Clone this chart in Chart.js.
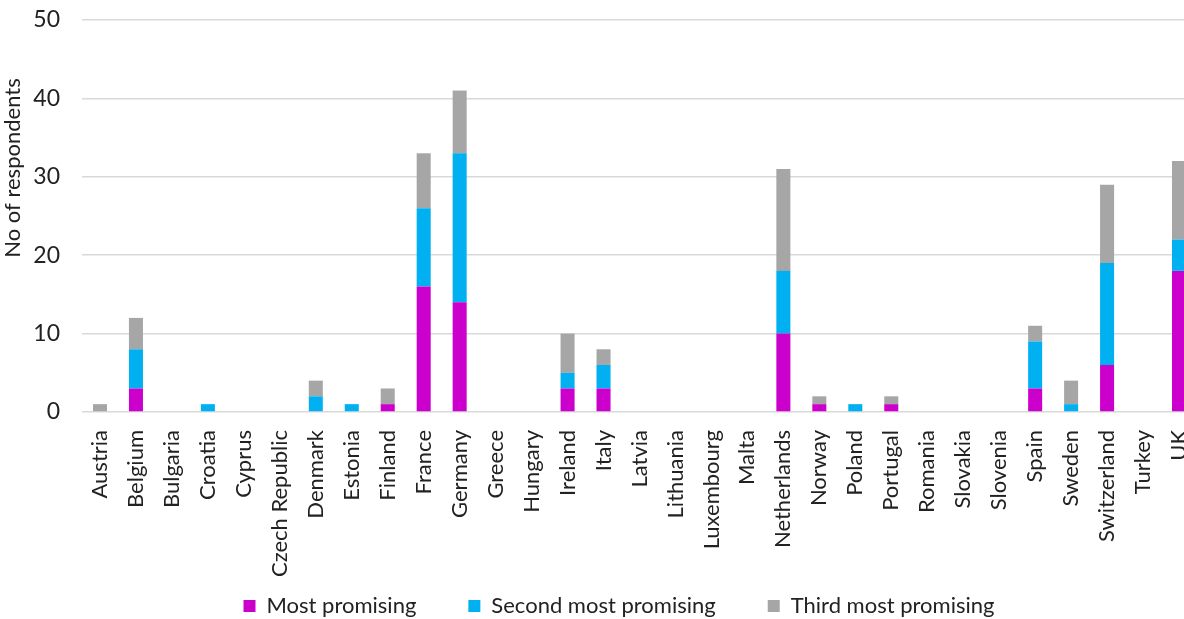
<!DOCTYPE html>
<html>
<head>
<meta charset="utf-8">
<script src="https://cdn.jsdelivr.net/npm/chart.js@4"></script>
<style>
  html, body { margin: 0; padding: 0; overflow: hidden; background: #fff; }
  #wrap { position: absolute; left: 0; top: 0; width: 1234px; height: 619px; }
</style>
</head>
<body>
<div id="wrap"><canvas id="grafic" width="1234" height="619"></canvas></div>
<script>
// dades
const paisos = ["Austria","Belgium","Bulgaria","Croatia","Cyprus","Czech Republic","Denmark","Estonia","Finland","France",
  "Germany","Greece","Hungary","Ireland","Italy","Latvia","Lithuania","Luxembourg","Malta","Netherlands",
  "Norway","Poland","Portugal","Romania","Slovakia","Slovenia","Spain","Sweden","Switzerland","Turkey","UK"];
const mesPrometedor =    [0,3,0,0,0,0,0,0,1,16, 14,0,0,3,3,0,0,0,0,10, 1,0,1,0,0,0,3,0,6,0,18];
const segonPrometedor =  [0,5,0,1,0,0,2,1,0,10, 19,0,0,2,3,0,0,0,0,8,  0,1,0,0,0,0,6,1,13,0,4];
const tercerPrometedor = [1,4,0,0,0,0,2,0,2,7,  8,0,0,5,2,0,0,0,0,13, 1,0,1,0,0,0,2,3,10,0,10];
const ticksY = [0,10,20,30,40,50];

const font = "Lato, 'DejaVu Sans', sans-serif";
const textColor = "#222222";

// titol de l'eix Y dibuixat a ma
const titolY = {
  id: "titolY",
  afterDraw(chart) {
    const ctx = chart.ctx;
    ctx.save();
    ctx.translate(13, 168);
    ctx.rotate(-Math.PI / 2);
    ctx.font = "22px " + font;
    ctx.fillStyle = textColor;
    ctx.textAlign = "center";
    ctx.textBaseline = "middle";
    ctx.fillText("No of respondents", 0, 0);
    ctx.restore();
  }
};

// les etiquetes no es retallen a la caixa de l'eix
function senseRetall(scale) {
  scale._computeLabelArea = () => undefined;
}

let node = document.querySelector("#grafic");
let grafic = new Chart(node, {
  type: "bar",
  data: {
    labels: paisos,
    datasets: [
      { label: "Most promising", data: mesPrometedor, backgroundColor: "#CC00CC" },
      { label: "Second most promising", data: segonPrometedor, backgroundColor: "#00B0F0" },
      { label: "Third most promising", data: tercerPrometedor, backgroundColor: "#A6A6A6" }
    ]
  },
  options: {
    responsive: false,
    animation: false,
    layout: { padding: { top: 20, right: 37, left: 41, bottom: -8 } },
    datasets: { bar: { barPercentage: 0.39, categoryPercentage: 1 } },
    scales: {
      x: {
        stacked: true,
        grid: { display: false },
        border: { display: false },
        afterFit(scale) {
          scale.height = 131;
          senseRetall(scale);
        },
        ticks: {
          color: textColor,
          font: { family: font, size: 22 },
          maxRotation: 90, minRotation: 90,
          autoSkip: false,
          padding: 10
        }
      },
      y: {
        stacked: true,
        min: 0, max: 50,
        afterBuildTicks(scale) { scale.ticks = ticksY.map(v => ({ value: v })); },
        afterFit(scale) {
          scale.width = 41;
          scale.paddingTop = 0;
          scale.paddingBottom = 0;
          senseRetall(scale);
        },
        grid: { color: "#D9D9D9", lineWidth: 1.5, drawTicks: false },
        border: { display: false },
        ticks: {
          color: textColor,
          font: { family: font, size: 23 },
          padding: 22
        }
      }
    },
    plugins: {
      legend: {
        position: "bottom",
        labels: {
          color: textColor,
          font: { family: font, size: 22 },
          boxWidth: 12, boxHeight: 12,
          padding: 52
        }
      },
      tooltip: { enabled: false }
    }
  },
  plugins: [titolY]
});
</script>
</body>
</html>
